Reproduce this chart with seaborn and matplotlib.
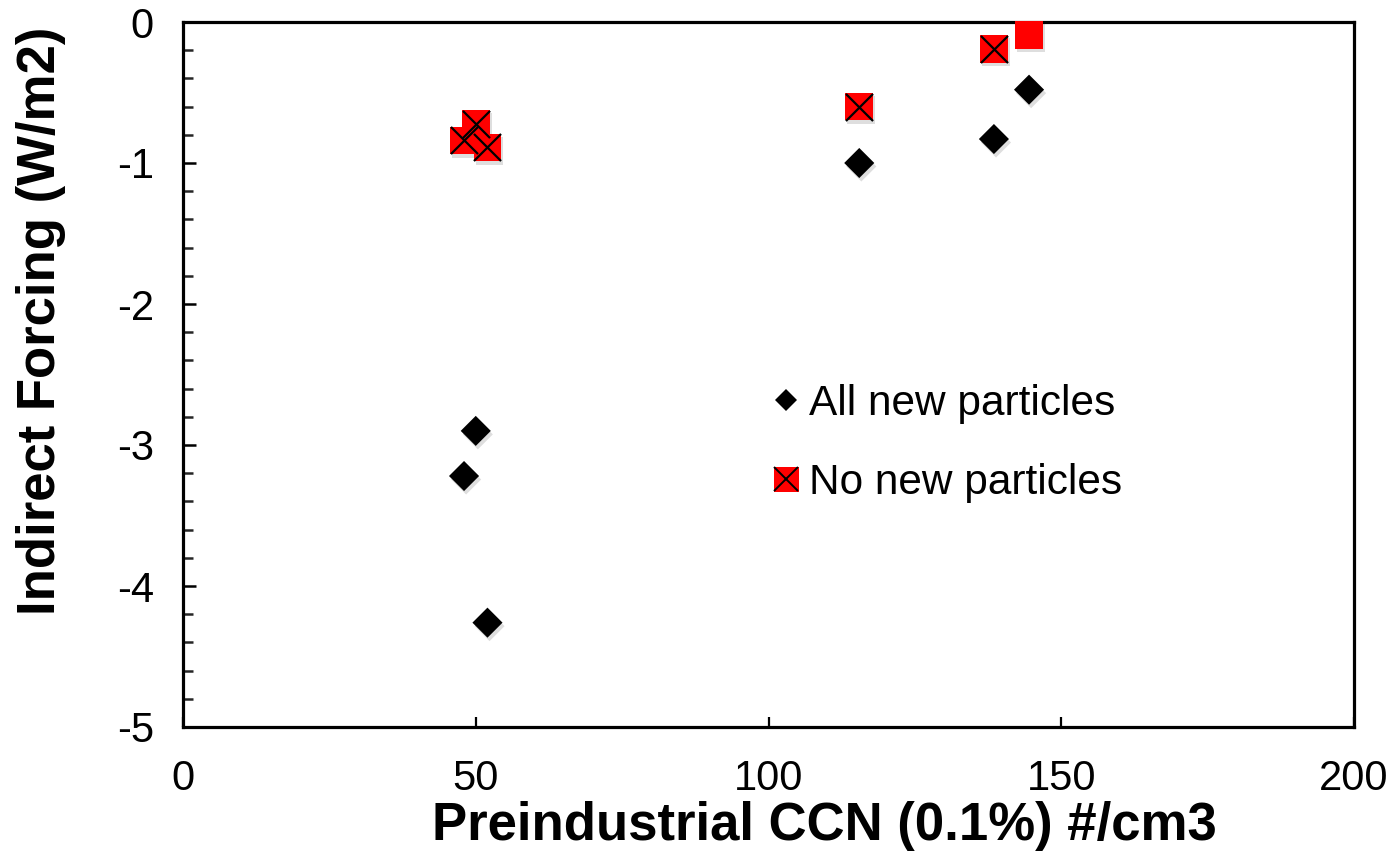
import matplotlib
matplotlib.use("Agg")
import matplotlib.pyplot as plt
import matplotlib.patheffects as pe
from matplotlib.legend_handler import HandlerTuple
from matplotlib.lines import Line2D
from matplotlib.ticker import MultipleLocator
import seaborn as sns
import pandas as pd

# Preindustrial CCN (0.1% supersaturation) for each model case
ccn_all = [48, 50, 52, 115.5, 138.5, 144.5]
forcing_all = [-3.22, -2.90, -4.26, -1.00, -0.83, -0.48]

ccn_none = [48, 50, 52, 115.5, 138.5, 144.5]
forcing_none = [-0.84, -0.72, -0.89, -0.60, -0.19, -0.09]
crossed = [True, True, True, True, True, False]

label_all = "All new particles"
label_none = "No new particles"

sns.set_theme(style="white")
plt.rcParams["font.family"] = ["Liberation Sans", "DejaVu Sans"]
plt.rcParams["axes.unicode_minus"] = False
plt.rcParams["text.color"] = "black"

df_all = pd.DataFrame({"ccn": ccn_all, "forcing": forcing_all})
df_none = pd.DataFrame({"ccn": ccn_none, "forcing": forcing_none, "crossed": crossed})
df_cross = df_none[df_none["crossed"]]

fig = plt.figure(figsize=(13.9, 8.61), dpi=100)
ax = fig.add_axes([183 / 1390, 1 - 727 / 861, (1354 - 183) / 1390, (727 - 22) / 861])

shadow = [pe.SimplePatchShadow(offset=(1.5, -2.5), shadow_rgbFace="black", alpha=0.13), pe.Normal()]

sns.scatterplot(data=df_all, x="ccn", y="forcing", marker="D", s=235, color="black",
                edgecolor="black", linewidth=0, ax=ax, legend=False, zorder=3)
sns.scatterplot(data=df_none, x="ccn", y="forcing", marker="s", s=400, color="#ff0000",
                edgecolor="#ff0000", linewidth=0, ax=ax, legend=False, zorder=4)
sns.scatterplot(data=df_cross, x="ccn", y="forcing", marker="x", s=380, color="black",
                linewidth=1.6, ax=ax, legend=False, zorder=5)
for coll in ax.collections[:2]:
    coll.set_path_effects(shadow)
for coll in ax.collections:
    coll.set_clip_on(False)

ax.set_xlim(0, 200)
ax.set_ylim(-5, 0)
ax.xaxis.set_major_locator(MultipleLocator(50))
ax.yaxis.set_major_locator(MultipleLocator(1))
ax.yaxis.set_minor_locator(MultipleLocator(0.2))
ax.tick_params(axis="x", which="major", direction="in", length=7.5, width=1.6,
               labelsize=30, pad=23, colors="black", bottom=True)
ax.tick_params(axis="y", which="major", direction="in", length=9, width=1.8,
               labelsize=30, pad=21, colors="black", left=True)
ax.tick_params(axis="y", which="minor", direction="in", length=7, width=1.8, left=True)
ax.tick_params(axis="x", which="minor", bottom=False)
for sp in ax.spines.values():
    sp.set_linewidth(2.3)
    sp.set_color("black")
ax.set_xlabel("")
ax.set_ylabel("")

fig.text(824 / 1390, 1 - 826 / 861, "Preindustrial CCN (0.1%) #/cm3",
         ha="center", va="center", fontsize=38, fontweight="bold", color="black")
fig.text(41 / 1390, 1 - 321 / 861, "Indirect Forcing (W/m2)", rotation=90,
         ha="center", va="center", fontsize=38, fontweight="bold", color="black")

h_all = Line2D([], [], marker="D", linestyle="none", markersize=11.5,
               markerfacecolor="black", markeredgecolor="black", markeredgewidth=0)
h_sq = Line2D([], [], marker="s", linestyle="none", markersize=18,
              markerfacecolor="#ff0000", markeredgecolor="#ff0000", markeredgewidth=0)
h_x = Line2D([], [], marker="x", linestyle="none", markersize=17,
             markeredgecolor="black", markeredgewidth=1.4)
leg = ax.legend([h_all, (h_sq, h_x)], [label_all, label_none],
                handler_map={tuple: HandlerTuple(ndivide=1, pad=0)},
                loc="upper left", bbox_to_anchor=((770 - 183) / 1171, (727 - 384) / 705),
                frameon=False, fontsize=30.5, handlelength=0.75, handletextpad=0.17,
                labelspacing=0.92, borderaxespad=0, borderpad=0)
for t in leg.get_texts():
    t.set_color("black")

fig.savefig("out.png", dpi=100)
